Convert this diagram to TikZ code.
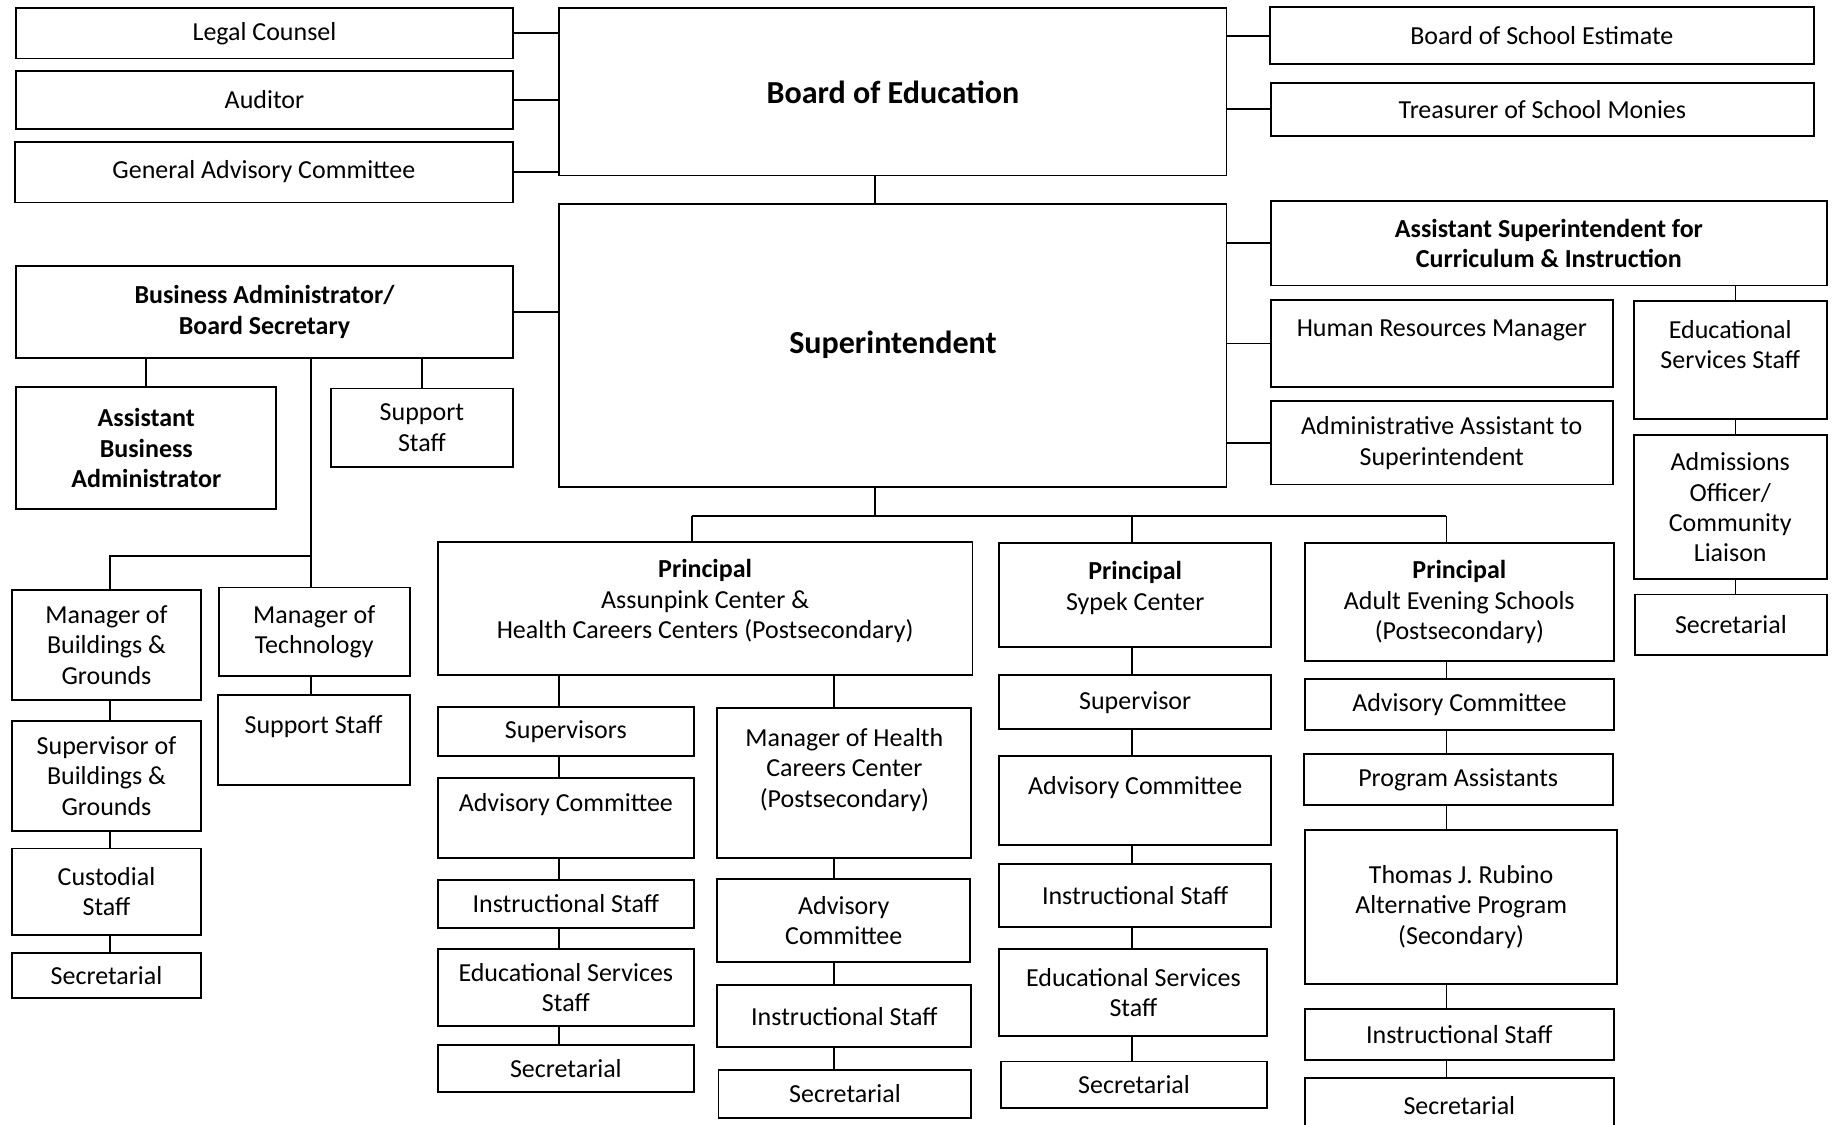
\documentclass[tikz,border=0pt]{standalone}
\usepackage{fontspec}
\setmainfont{Carlito}
\tikzset{
  box/.style={draw, line width=0.8pt, align=center, inner sep=2pt, font=\fontsize{11.1}{13}\selectfont},
  big/.style={font=\fontsize{13.7}{16}\selectfont\bfseries},
  boxat/.style args={#1/#2/#3/#4}{minimum width={(#3-#1)*0.5pt}, minimum height={(#4-#2)*0.5pt}, at={({(#1+#3)/2},{(#2+#4)/2})}},
  link/.style={line width=0.8pt},
}
\begin{document}
\begin{tikzpicture}[x=0.5pt,y=-0.5pt]
\useasboundingbox (0,0) rectangle (1568,961);
% board level
\node[box,boxat=14/7/438/50] (legal) {Legal Counsel};
\node[box,boxat=14/61/438/110] (auditor) {Auditor};
\node[box,boxat=13/121/438/173] (gac) {General Advisory Committee};
\node[box,big,boxat=478/7/1048/150] (boe) {Board of Education};
\node[box,boxat=1085/6/1550/55] (bse) {Board of School Estimate};
\node[box,boxat=1086/71/1550/116] (treas) {Treasurer of School Monies};
\node[box,big,boxat=478/174/1048/416] (super) {Superintendent};
% business side
\node[box,boxat=14/227/438/306] (ba) {\bfseries Business Administrator/\\\bfseries Board Secretary};
\node[box,boxat=14/331/236/435] (aba) {\bfseries Assistant\\\bfseries Business\\\bfseries Administrator};
\node[box,boxat=283/332/438/399] (bsup) {Support\\Staff};
\node[box,boxat=10/504/172/598] (mbg) {Manager of\\Buildings \&\\Grounds};
\node[box,boxat=187/502/350/578] (mtech) {Manager of\\Technology};
\node[box,boxat=186/594/350/671] (tsup) {Support Staff\\~};
\node[box,boxat=10/616/172/710] (sbg) {Supervisor of\\Buildings \&\\Grounds};
\node[box,boxat=10/725/172/799] (cust) {Custodial\\Staff};
\node[box,boxat=10/814/172/853] (bsec) {Secretarial};
% curriculum side
\node[box,boxat=1086/172/1561/244] (asci) {\bfseries Assistant Superintendent for\\\bfseries Curriculum \& Instruction};
\node[box,boxat=1086/256/1378/331] (hr) {Human Resources Manager\\~};
\node[box,boxat=1086/343/1378/414] (aas) {Administrative Assistant to\\Superintendent};
\node[box,boxat=1396/257/1561/358] (ess) {Educational\\Services Staff\\~};
\node[box,boxat=1396/372/1561/495] (adm) {Admissions\\Officer/\\Community\\Liaison};
\node[box,boxat=1397/508/1561/560] (csec) {Secretarial};
% principals
\node[box,boxat=374/463/831/577] (pa) {\bfseries Principal\\Assunpink Center \&\\Health Careers Centers (Postsecondary)\\[-5pt]~};
\node[box,boxat=854/464/1086/553] (ps) {\bfseries Principal\\Sypek Center\\[-5pt]~};
\node[box,boxat=1115/464/1379/565] (pe) {\bfseries Principal\\Adult Evening Schools\\(Postsecondary)};
% Assunpink column
\node[box,boxat=374/604/593/646] (sup1) {Supervisors};
\node[box,boxat=374/665/593/733] (adv1) {Advisory Committee\\~};
\node[box,boxat=374/752/593/793] (ins1) {Instructional Staff};
\node[box,boxat=374/811/593/877] (ess1) {Educational Services\\Staff};
\node[box,boxat=374/893/593/933] (sec1) {Secretarial};
% health careers column
\node[box,boxat=613/605/830/733] (mhc) {Manager of Health\\Careers Center\\(Postsecondary)\\~};
\node[box,boxat=613/751/829/822] (adv2) {Advisory\\Committee};
\node[box,boxat=613/842/830/895] (ins2) {Instructional Staff};
\node[box,boxat=614/914/830/955] (sec2) {Secretarial};
% Sypek column
\node[box,boxat=854/577/1086/623] (sup3) {Supervisor};
\node[box,boxat=854/646/1086/722] (adv3) {Advisory Committee\\~};
\node[box,boxat=854/738/1086/792] (ins3) {Instructional Staff};
\node[box,boxat=854/811/1083/885] (ess3) {Educational Services\\Staff};
\node[box,boxat=855/907/1083/947] (sec3) {Secretarial};
% adult evening column
\node[box,boxat=1115/580/1379/624] (adv4) {Advisory Committee};
\node[box,boxat=1114/644/1378/688] (prog4) {Program Assistants};
\node[box,boxat=1115/709/1382/841] (rub4) {Thomas J. Rubino\\Alternative Program\\(Secondary)};
\node[box,boxat=1115/862/1379/906] (ins4) {Instructional Staff};
\node[box,boxat=1115/921/1379/968] (sec4) {Secretarial};
% spines of the columns
\coordinate (spL) at (94,0);
\coordinate (spT) at (266,0);
\coordinate (spA) at (478,0);
\coordinate (spH) at (713,0);
\coordinate (spS) at (967,0);
\coordinate (spE) at (1236,0);
\coordinate (spR) at (1483,0);
\coordinate (spP) at (591,0);
\coordinate (spM) at (748,0);
% connectors
\foreach \n in {legal,auditor,gac} \draw[link] (\n.east) -- (\n.east -| boe.west);
\draw[link] (ba.east) -- (ba.east -| super.west);
\foreach \n in {bse,treas} \draw[link] (\n.west) -- (\n.west -| boe.east);
\foreach \n in {asci,hr,aas} \draw[link] (\n.west) -- (\n.west -| super.east);
\draw[link] (spM |- boe.south) -- (spM |- super.north);
\draw[link] (spM |- super.south) -- ++(0,24) coordinate (bus);
\draw[link] (spP |- bus) -- (spE |- bus);
\foreach \p/\s in {pa/spP,ps/spS,pe/spE} \draw[link] (\s |- bus) -- (\s |- \p.north);
\foreach \n in {aba,bsup} \draw[link] (\n.north |- ba.south) -- (\n.north);
\draw[link] (spT |- ba.south) -- (spT |- mtech.north);
\draw[link] (spT |- mtech.north) ++(0,-26) -| (spL |- mbg.north);
\foreach \n/\s in {sup1/spA,mhc/spH} \draw[link] (\s |- pa.south) -- (\s |- \n.north);
\draw[link] (spR |- asci.south) -- (spR |- ess.north);
\foreach \a/\b/\s in {mbg/sbg/spL,sbg/cust/spL,cust/bsec/spL,mtech/tsup/spT,ess/adm/spR,adm/csec/spR,
  sup1/adv1/spA,adv1/ins1/spA,ins1/ess1/spA,ess1/sec1/spA,mhc/adv2/spH,adv2/ins2/spH,ins2/sec2/spH,
  ps/sup3/spS,sup3/adv3/spS,adv3/ins3/spS,ins3/ess3/spS,ess3/sec3/spS,
  pe/adv4/spE,adv4/prog4/spE,prog4/rub4/spE,rub4/ins4/spE,ins4/sec4/spE}
  \draw[link] (\s |- \a.south) -- (\s |- \b.north);
\end{tikzpicture}
\end{document}
